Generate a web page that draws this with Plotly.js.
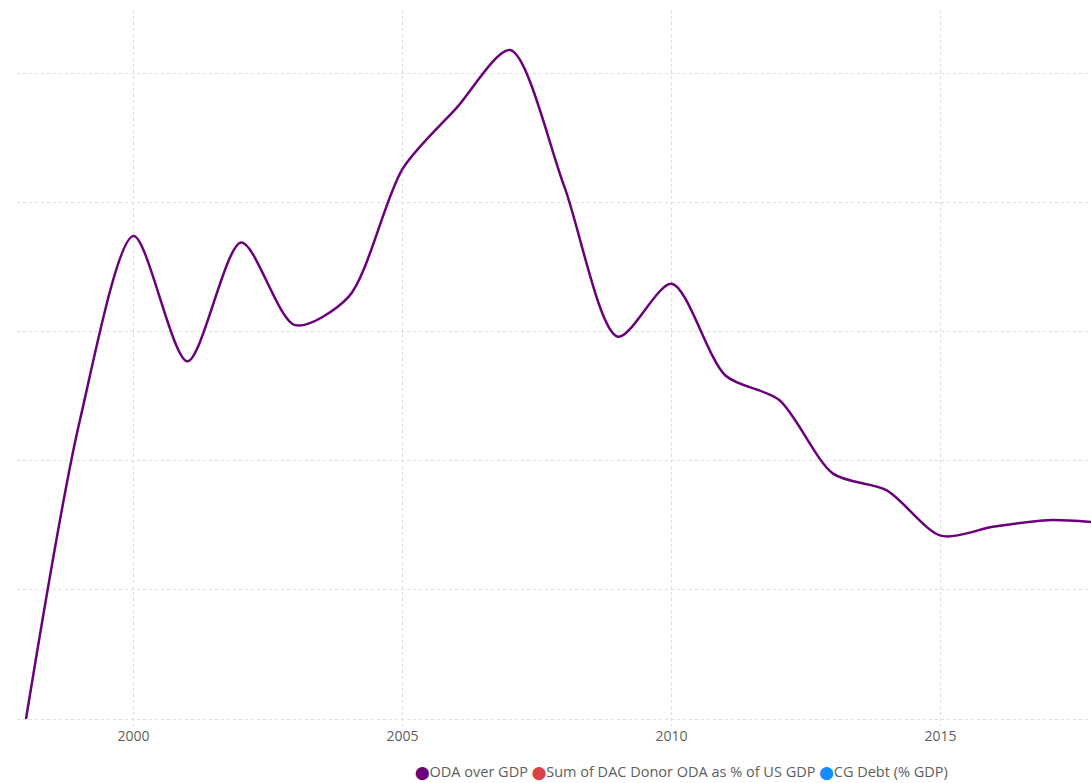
<!DOCTYPE html>
<html><head><meta charset="utf-8">
<script src="https://cdn.plot.ly/plotly-3.0.1.min.js"></script>
<style>html,body{margin:0;padding:0;background:#fff}</style>
</head><body><div id="chart" style="width:1091px;height:783px"></div>
<script>
const years = [1998,1999,2000,2001,2002,2003,2004,2005,2006,2007,2008,2009,2010,2011,2012,2013,2014,2015,2016,2017,2018];
const odaOverGdp = [0.00,2.31,3.74,2.77,3.69,3.05,3.27,4.26,4.73,5.18,4.13,2.96,3.37,2.66,2.47,1.90,1.77,1.42,1.49,1.54,1.52];
const seriesNames = ["ODA over GDP","Sum of DAC Donor ODA as % of US GDP","CG Debt (% GDP)"];
const seriesColors = ["#6B007B","#D9414B","#118DFF"];
const xTicks = [2000,2005,2010,2015];

const traces = [{
  x: years, y: odaOverGdp, type: 'scatter', mode: 'lines', name: seriesNames[0],
  line: {shape: 'spline', smoothing: 0.8, color: seriesColors[0], width: 2.5},
  showlegend: false, hoverinfo: 'x+y'
}];

const legendText = seriesNames.map((n,i)=>
  `<span style="color:${seriesColors[i]};font-family:'DejaVu Sans';font-size:13px">⬤</span>${n}`).join(' ');

const layout = {
  width: 1091, height: 783,
  margin: {l:17, r:0, t:10, b:57},
  paper_bgcolor:'#fff', plot_bgcolor:'#fff',
  font: {family:'"Open Sans", "Noto Sans", sans-serif', color:'#605E5C', size:13},
  xaxis: {range:[1997.833, 2017.795], tickvals: xTicks, ticktext: xTicks.map(String),
    showgrid:true, gridcolor:'#DDDDDD', griddash:'dot', gridwidth:1,
    zeroline:false, showline:false, ticks:'', tickfont:{size:14, color:'#605E5C'}},
  yaxis: {range:[-0.054, 5.49], dtick:1, tick0:0, showticklabels:false,
    showgrid:true, gridcolor:'#DDDDDD', griddash:'dot', gridwidth:1,
    zeroline:false, showline:false, ticks:''},
  showlegend: false,
  annotations: [{
    xref:'paper', yref:'paper', x:0.3687, xanchor:'left', y:-0.0642, yanchor:'middle',
    text: legendText, showarrow:false, align:'left',
    font:{size:14.5, color:'#605E5C'}
  }]
};
Plotly.newPlot('chart', traces, layout, {displayModeBar:false, staticPlot:true});
</script></body></html>
